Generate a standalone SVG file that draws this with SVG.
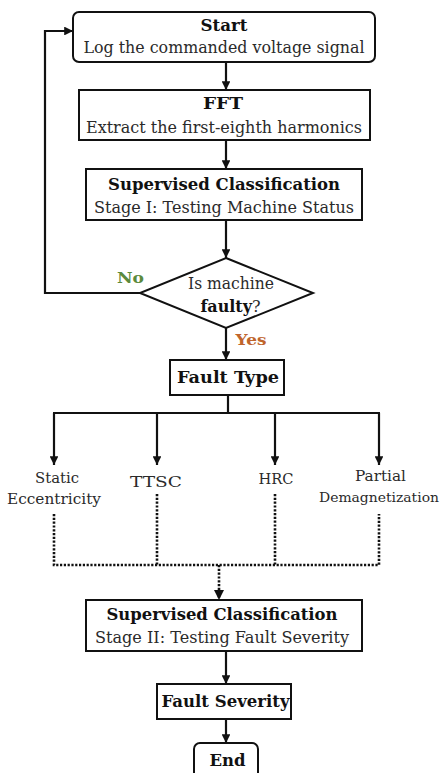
<svg xmlns="http://www.w3.org/2000/svg" width="442" height="773" viewBox="0 0 442 773">
<defs>
<marker id="ah" viewBox="0 0 10 10" refX="10" refY="5" markerWidth="4" markerHeight="4" markerUnits="strokeWidth" orient="auto">
<path d="M0,0 L10,5 L0,10 z" fill="#111"/>
</marker>
<style>
.box{fill:#fff;stroke:#111;stroke-width:2}
.t{font-family:"DejaVu Serif",serif;font-size:16px;fill:#2a2a2a;text-anchor:middle}
.b{font-weight:bold;fill:#111}
.s{font-size:15px}
.c{fill:none;stroke:#111;stroke-width:2.2}
.d{fill:none;stroke:#111;stroke-width:2.6;stroke-dasharray:2.2 1.6}
</style>
</defs>
<rect width="442" height="773" fill="#fff"/>
<g id="connectors">
<line class="c" x1="226" y1="62" x2="226" y2="90" marker-end="url(#ah)"/>
<line class="c" x1="226" y1="140" x2="226" y2="169" marker-end="url(#ah)"/>
<line class="c" x1="226" y1="220" x2="226" y2="258" marker-end="url(#ah)"/>
<line class="c" x1="226" y1="328" x2="226" y2="360" marker-end="url(#ah)"/>
<polyline class="c" points="140,293 45,293 45,31 73,31" marker-end="url(#ah)"/>
<line class="c" x1="228" y1="395" x2="228" y2="413"/>
<line class="c" x1="53" y1="413" x2="380" y2="413"/>
<line class="c" x1="54" y1="413" x2="54" y2="465" marker-end="url(#ah)"/>
<line class="c" x1="157" y1="413" x2="157" y2="465" marker-end="url(#ah)"/>
<line class="c" x1="275" y1="413" x2="275" y2="465" marker-end="url(#ah)"/>
<line class="c" x1="379" y1="413" x2="379" y2="465" marker-end="url(#ah)"/>
<polyline class="d" points="54,514 54,565 379,565 379,514"/>
<line class="d" x1="157" y1="494" x2="157" y2="565"/>
<line class="d" x1="275" y1="494" x2="275" y2="565"/>
<line class="d" x1="219" y1="565" x2="219" y2="600" marker-end="url(#ah)"/>
<line class="c" x1="226" y1="651" x2="226" y2="684" marker-end="url(#ah)"/>
<line class="c" x1="226" y1="719" x2="226" y2="743" marker-end="url(#ah)"/>
<text class="t b s" x="130.5" y="283" textLength="27" lengthAdjust="spacingAndGlyphs" style="fill:#5b8a3c">No</text>
<text class="t b s" x="251" y="345" textLength="31" lengthAdjust="spacingAndGlyphs" style="fill:#c0652c">Yes</text>
</g>
<g id="start">
<rect class="box" x="73" y="12" width="302" height="50" rx="6"/>
<text class="t b" x="224" y="31" textLength="47" lengthAdjust="spacingAndGlyphs">Start</text>
<text class="t" x="224" y="53" textLength="281" lengthAdjust="spacingAndGlyphs">Log the commanded voltage signal</text>
</g>
<g id="fft">
<rect class="box" x="79" y="90" width="291" height="50"/>
<text class="t b" x="223" y="109" textLength="40" lengthAdjust="spacingAndGlyphs">FFT</text>
<text class="t" x="224" y="133" textLength="276" lengthAdjust="spacingAndGlyphs">Extract the first-eighth harmonics</text>
</g>
<g id="sc1">
<rect class="box" x="86" y="169" width="276" height="51"/>
<text class="t b" x="224" y="190" textLength="232" lengthAdjust="spacingAndGlyphs">Supervised Classification</text>
<text class="t" x="224" y="213" textLength="260" lengthAdjust="spacingAndGlyphs">Stage I: Testing Machine Status</text>
</g>
<g id="decision">
<polygon class="box" points="226,258 313,293 226,328 140,293"/>
<text class="t" x="231" y="289" textLength="86" lengthAdjust="spacingAndGlyphs">Is machine</text>
<text class="t" x="230.5" y="312"><tspan class="b">faulty</tspan>?</text>
</g>
<g id="faulttype">
<rect class="box" x="170" y="360" width="114" height="35"/>
<text class="t b" x="228" y="383" textLength="102" lengthAdjust="spacingAndGlyphs">Fault Type</text>
</g>
<g id="static">
<text class="t s" x="57" y="483" textLength="44" lengthAdjust="spacingAndGlyphs">Static</text>
<text class="t s" x="54" y="504" textLength="94" lengthAdjust="spacingAndGlyphs">Eccentricity</text>
</g>
<g id="ttsc">
<text class="t s" x="156" y="487" textLength="52" lengthAdjust="spacingAndGlyphs">TTSC</text>
</g>
<g id="hrc">
<text class="t s" x="276" y="484" textLength="35" lengthAdjust="spacingAndGlyphs">HRC</text>
</g>
<g id="demag">
<text class="t s" x="380.5" y="481" textLength="51" lengthAdjust="spacingAndGlyphs">Partial</text>
<text class="t" x="379" y="502" style="font-size:13px" textLength="120" lengthAdjust="spacingAndGlyphs">Demagnetization</text>
</g>
<g id="sc2">
<rect class="box" x="86" y="600" width="276" height="51"/>
<text class="t b" x="222" y="620" textLength="231" lengthAdjust="spacingAndGlyphs">Supervised Classification</text>
<text class="t" x="222" y="643" textLength="254" lengthAdjust="spacingAndGlyphs">Stage II: Testing Fault Severity</text>
</g>
<g id="severity">
<rect class="box" x="157" y="684" width="134" height="35"/>
<text class="t b" x="225.5" y="707" textLength="128" lengthAdjust="spacingAndGlyphs">Fault Severity</text>
</g>
<g id="end">
<rect class="box" x="194" y="743" width="64" height="45" rx="6"/>
<text class="t b" x="227.5" y="766" textLength="36" lengthAdjust="spacingAndGlyphs">End</text>
</g>
</svg>
